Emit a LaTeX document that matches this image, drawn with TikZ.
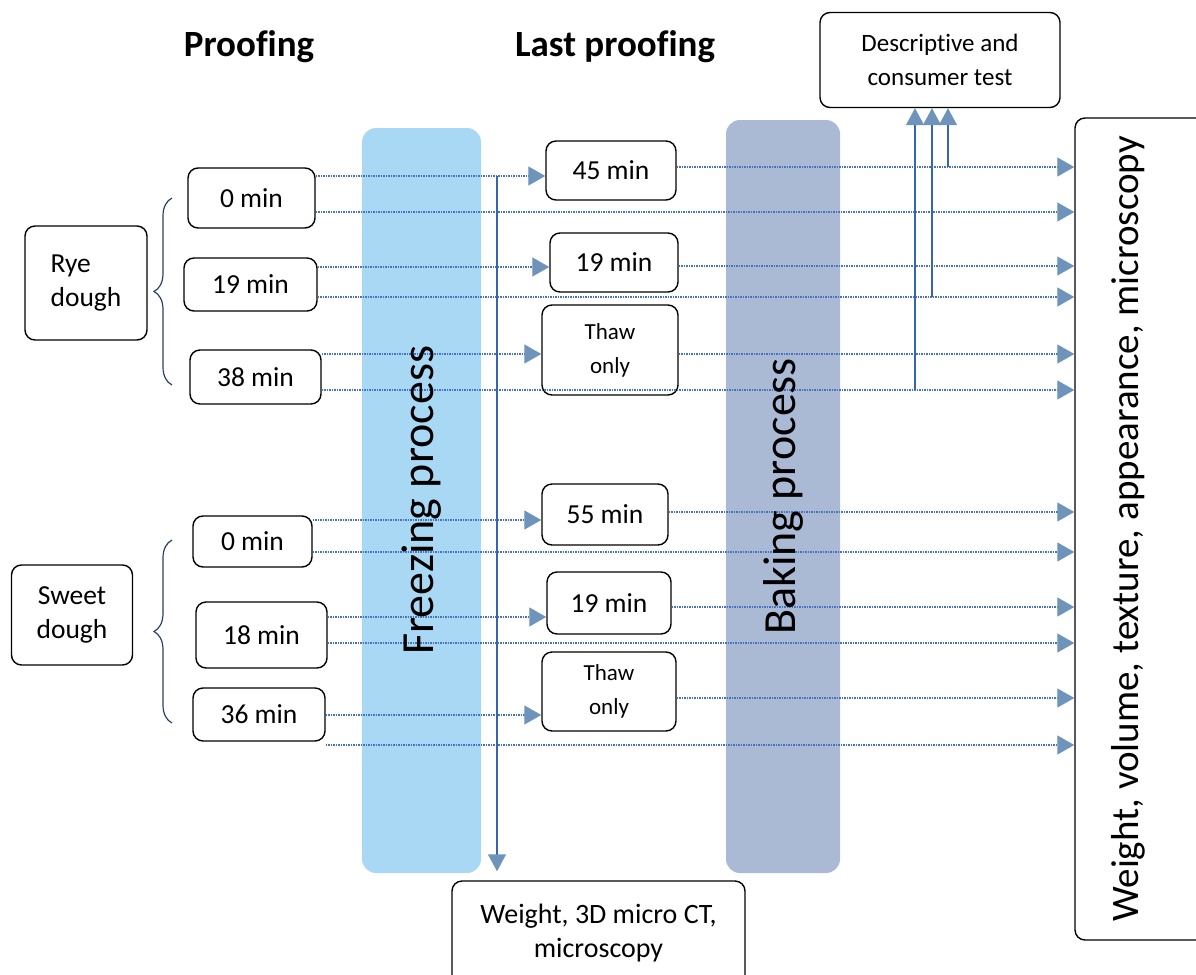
\documentclass[tikz,border=0pt]{standalone}
\usepackage{fontspec}
\setmainfont{Carlito}[Ligatures={NoCommon}]
\usetikzlibrary{arrows.meta,decorations.pathreplacing,calc}
\definecolor{linec}{RGB}{70,114,190}
\definecolor{vlinec}{RGB}{55,100,175}
\definecolor{tipc}{RGB}{110,148,188}
\definecolor{freezec}{RGB}{169,216,245}
\definecolor{bakec}{RGB}{170,186,213}
\definecolor{bracec}{RGB}{40,65,105}
\begin{document}
\begin{tikzpicture}[x=1pt,y=-1pt,
  box/.style={draw=black, line width=1.4pt, rounded corners=10pt, align=center, inner sep=0pt, font=\fontsize{27.5}{34}\selectfont},
  smallbox/.style={box, font=\fontsize{23}{34}\selectfont},
  bar/.style={rounded corners=14pt, inner sep=0pt, font=\fontsize{46}{50}\selectfont},
  head/.style={font=\fontsize{37}{40}\selectfont\bfseries, inner sep=0pt},
  dl/.style={draw=linec, line width=1.2pt, dash pattern=on 1.3pt off 1.2pt, -{Triangle[length=17pt,width=19pt,color=tipc]}},
  vl/.style={draw=vlinec, line width=1.4pt, -{Triangle[length=17pt,width=18pt,color=tipc]}},
  brc/.style={draw=bracec, line width=1.2pt, decorate, decoration={brace, amplitude=18pt}}
]
\useasboundingbox (0,0) rectangle (1196,974);
\clip (0,0) rectangle (1196,974);

% process bars
\node[bar, fill=freezec, minimum width=119pt, minimum height=745pt] (freeze) at (421.5,500.5) {};
\node[bar, fill=bakec, minimum width=114pt, minimum height=753pt] (bake) at (783,496.5) {};

% headings
\node[head] (h1) at (249,47) {Proofing};
\node[head] (h2) at (615,47) {Last proofing};

% boxes
\node[box, font=\fontsize{25}{34}\selectfont, minimum width=240pt, minimum height=95pt] (desc) at (940,60) {Descriptive and\\consumer test};
\node[box, align=left, minimum width=122pt, minimum height=114pt] (rye) at (86,283) {Rye\\dough};
\node[box, minimum width=121pt, minimum height=100pt] (sweet) at (72,615) {Sweet\\dough};

\node[box, minimum width=127pt, minimum height=60pt] (r0) at (251.5,198) {0 min};
\node[box, minimum width=133pt, minimum height=53pt] (r19) at (250.5,284.5) {19 min};
\node[box, minimum width=131pt, minimum height=54pt] (r38) at (255.5,377) {38 min};
\node[box, minimum width=119pt, minimum height=51pt] (s0) at (252.5,541.5) {0 min};
\node[box, minimum width=131pt, minimum height=66pt] (s18) at (261.5,635) {18 min};
\node[box, minimum width=132pt, minimum height=53pt] (s36) at (259,714.5) {36 min};

\node[box, minimum width=130pt, minimum height=59pt] (m45) at (611,170.5) {45 min};
\node[box, minimum width=128pt, minimum height=59pt] (m19) at (614,262.5) {19 min};
\node[smallbox, minimum width=136pt, minimum height=90pt] (mth) at (610,350) {Thaw\\only};
\node[box, minimum width=126pt, minimum height=61pt] (n55) at (605,514.5) {55 min};
\node[box, minimum width=124pt, minimum height=62pt] (n19) at (609,603) {19 min};
\node[smallbox, minimum width=134pt, minimum height=79pt] (nth) at (609,691.5) {Thaw\\only};

\node[box, font=\fontsize{28}{34}\selectfont, minimum width=293pt, minimum height=104pt] (bot) at (598.5,933) {Weight, 3D micro CT,\\microscopy};
\node[box, font=\fontsize{39}{42}\selectfont, minimum width=140pt, minimum height=822pt] (res) at (1145,529)
  {\rotatebox{90}{Weight, volume, texture, appearance, microscopy}\hspace*{34pt}};

% braces
\draw[brc] (172,385) -- (172,198);
\draw[brc] (172,723) -- (172,540);

% dotted connectors: rye
\draw[dl] (r0.east |- 0,176) -- (m45.west |- 0,176);
\draw[dl] (r0.east |- 0,212) -- (res.west |- 0,212);
\draw[dl] (m45.east |- 0,167) -- (res.west |- 0,167);
\draw[dl] (r19.east |- 0,267) -- (m19.west |- 0,267);
\draw[dl] (r19.east |- 0,297) -- (res.west |- 0,297);
\draw[dl] (m19.east |- 0,266) -- (res.west |- 0,266);
\draw[dl] (r38.east |- 0,354) -- (mth.west |- 0,354);
\draw[dl] (r38.east |- 0,390) -- (res.west |- 0,390);
\draw[dl] (mth.east |- 0,354) -- (res.west |- 0,354);
% dotted connectors: sweet
\draw[dl] (s0.east |- 0,520) -- (n55.west |- 0,520);
\draw[dl] (s0.east |- 0,552) -- (res.west |- 0,552);
\draw[dl] (n55.east |- 0,512) -- (res.west |- 0,512);
\draw[dl] (s18.east |- 0,617) -- (n19.west |- 0,617);
\draw[dl] (s18.east |- 0,643) -- (res.west |- 0,643);
\draw[dl] (n19.east |- 0,607) -- (res.west |- 0,607);
\draw[dl] (s36.east |- 0,715) -- (nth.west |- 0,715);
\draw[dl] (s36.east |- 0,745) -- (res.west |- 0,745);
\draw[dl] (nth.east |- 0,698) -- (res.west |- 0,698);

% bar labels (over the lines)
\node[font=\fontsize{46}{50}\selectfont, inner sep=0pt] (ftxt) at (freeze.center) {\rotatebox{90}{Freezing process}};
\node[font=\fontsize{46}{50}\selectfont, inner sep=0pt] (btxt) at (bake.center) {\rotatebox{90}{Baking process}};

% solid vertical arrows
\coordinate (fz) at (497,176);
\draw[vl, shorten >=9pt] (fz) -- (fz |- bot.north);
\coordinate (u1) at (915,390);
\coordinate (u2) at (932,297);
\coordinate (u3) at (948,167);
\draw[vl] (u1) -- (u1 |- desc.south);
\draw[vl] (u2) -- (u2 |- desc.south);
\draw[vl] (u3) -- (u3 |- desc.south);
\end{tikzpicture}
\end{document}
